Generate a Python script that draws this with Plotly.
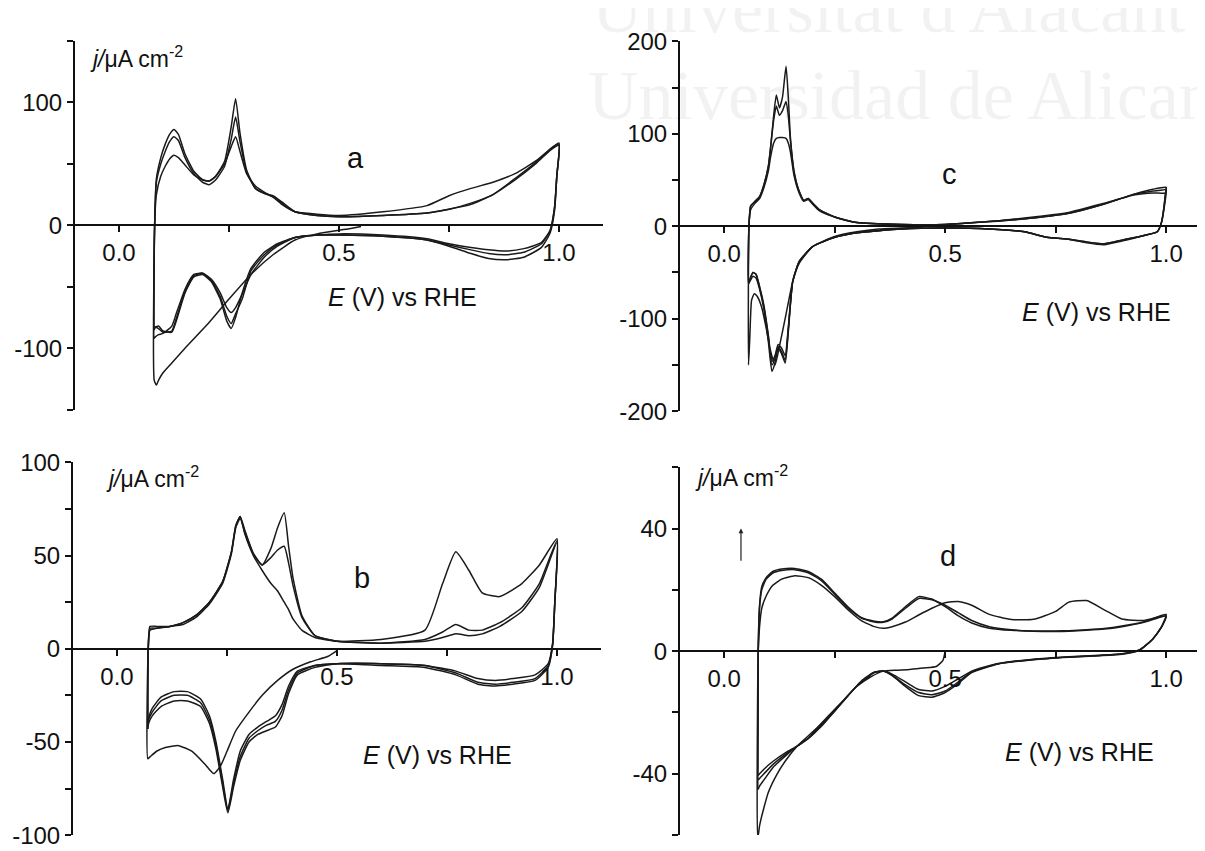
import plotly.graph_objects as go

# Reference canvas is 1205x851; the HTML body adds an 8px margin, so the figure is made
# 8px smaller and every reference pixel position is shifted by that offset.
W, H = 1205, 851
OFF = 8
FW, FH = W - OFF, H - OFF
FONT = "Liberation Sans, Arial, sans-serif"
AX = "#111111"
LC = "#1a1a1a"

# ---------------- Panel a ----------------
a_E_first = [0.55, 0.52, 0.50, 0.45, 0.40, 0.35, 0.30, 0.25, 0.20, 0.15, 0.12, 0.10, 0.09, 0.085, 0.08]
a_j_first = [-1, -3, -4, -7, -12, -24, -40, -60, -81, -100, -112, -120, -126, -130, -126]

a_E_up = [0.080, 0.081, 0.085, 0.095, 0.105, 0.115, 0.125, 0.135, 0.15, 0.17, 0.19, 0.205, 0.22, 0.24,
          0.255, 0.265, 0.275, 0.29, 0.31, 0.33, 0.35, 0.37, 0.40, 0.45, 0.50, 0.60, 0.70, 0.75, 0.80,
          0.85, 0.90, 0.95, 0.98, 1.00]
a_j_up1 = [-85, 0, 38, 55, 66, 74, 78, 74, 58, 44, 37, 36, 40, 52, 80, 103, 75, 45, 30, 26, 23, 18, 11,
           8, 7, 8, 10, 13, 17, 25, 38, 52, 62, 66]
a_j_up2 = [-92, 0, 35, 50, 60, 68, 72, 69, 55, 42, 35, 33, 37, 48, 70, 88, 68, 43, 30, 26, 24, 19, 11,
           8, 7, 8, 10, 13, 18, 25, 37, 51, 61, 65]
a_j_up3 = [-126, 0, 25, 40, 48, 54, 57, 55, 49, 41, 37, 36, 40, 50, 64, 72, 60, 42, 32, 27, 23, 17, 11,
           9, 8, 11, 16, 24, 30, 35, 42, 53, 62, 67]

a_E_dn = [1.00, 0.995, 0.99, 0.98, 0.96, 0.92, 0.88, 0.84, 0.80, 0.75, 0.70, 0.60, 0.50, 0.45, 0.40,
          0.36, 0.33, 0.30, 0.28, 0.265, 0.255, 0.245, 0.23, 0.21, 0.19, 0.17, 0.15, 0.13, 0.12, 0.10,
          0.09, 0.082, 0.080]
a_j_dn1 = [66, 40, 15, -4, -15, -22, -24, -23, -20, -16, -12, -9, -8, -8, -10, -15, -22, -35, -55, -75,
           -84, -78, -60, -46, -40, -42, -55, -78, -87, -86, -82, -83, -85]
a_j_dn2 = [65, 40, 15, -4, -14, -19, -21, -20, -18, -15, -11, -8, -7, -8, -10, -17, -26, -40, -56, -67,
           -71, -67, -55, -44, -39, -40, -52, -72, -82, -88, -89, -91, -92]
a_j_dn3 = [67, 40, 12, -6, -18, -26, -28, -27, -23, -17, -12, -9, -8, -8, -10, -16, -24, -37, -60, -72,
           -80, -74, -58, -45, -39, -41, -54, -76, -86, -87, -84, -83, -85]

# ---------------- Panel b ----------------
b_E_first = [0.50, 0.48, 0.44, 0.40, 0.365, 0.33, 0.30, 0.27, 0.25, 0.235, 0.22, 0.20, 0.17, 0.14, 0.11,
             0.09, 0.075, 0.070]
b_j_first = [-1, -4, -7, -11, -17, -25, -34, -44, -55, -63, -67, -62, -55, -52, -53, -55, -58, -59]

b_E_up = [0.070, 0.071, 0.075, 0.09, 0.12, 0.15, 0.18, 0.21, 0.24, 0.26, 0.27, 0.28, 0.29, 0.31, 0.33,
          0.35, 0.365, 0.38, 0.39, 0.40, 0.42, 0.45, 0.50, 0.60, 0.70, 0.74, 0.77, 0.80, 0.83, 0.87, 0.92,
          0.96, 1.00]
b_j_upF = [-59, 0, 10, 11, 12, 14, 18, 25, 36, 52, 66, 71, 62, 50, 42, 35, 31, 25, 21, 16, 10, 6, 4, 5,
           10, 35, 52, 42, 30, 28, 35, 45, 59]
b_j_up1 = [-40, 0, 12, 12, 12, 14, 18, 25, 36, 52, 66, 71, 64, 51, 45, 54, 65, 73, 55, 38, 18, 7, 4, 3,
           5, 9, 13, 10, 10, 14, 22, 35, 58]
b_j_up2 = [-43, 0, 11, 11, 12, 13, 17, 24, 35, 51, 65, 70, 63, 51, 45, 49, 53, 55, 46, 34, 17, 7, 4, 3,
           4, 6, 8, 7, 8, 12, 20, 33, 57]

b_E_dn = [1.00, 0.995, 0.99, 0.98, 0.95, 0.90, 0.86, 0.82, 0.77, 0.70, 0.60, 0.50, 0.45, 0.41, 0.39,
          0.375, 0.36, 0.34, 0.32, 0.30, 0.28, 0.265, 0.252, 0.24, 0.225, 0.21, 0.19, 0.16, 0.13, 0.10,
          0.08, 0.072, 0.070]
b_j_dn1 = [59, 25, 3, -8, -14, -16, -17, -16, -12, -9, -8, -8, -9, -12, -20, -30, -36, -39, -42, -46,
           -55, -70, -86, -70, -50, -36, -27, -23, -23, -26, -32, -37, -40]
b_j_dn2 = [58, 25, 2, -10, -17, -19, -20, -19, -14, -10, -9, -8, -10, -14, -24, -36, -42, -44, -46, -50,
           -60, -74, -88, -74, -54, -40, -31, -28, -28, -31, -36, -40, -43]
b_j_dn3 = [57, 25, 2, -9, -16, -18, -19, -18, -13, -9, -8, -8, -9, -13, -22, -33, -39, -41, -44, -48,
           -58, -72, -87, -72, -52, -38, -29, -25, -25, -28, -34, -38, -41]

# ---------------- Panel c ----------------
c_E_first = [0.45, 0.40, 0.35, 0.30, 0.25, 0.20, 0.17, 0.155, 0.14, 0.125, 0.115, 0.105, 0.095, 0.085,
             0.075, 0.068, 0.062, 0.058, 0.055]
c_j_first = [-1, -2, -3, -6, -11, -22, -40, -60, -95, -130, -150, -135, -110, -88, -76, -73, -80, -120,
             -150]

c_E_up = [0.055, 0.056, 0.06, 0.07, 0.08, 0.09, 0.10, 0.105, 0.112, 0.118, 0.125, 0.132, 0.14, 0.145,
          0.15, 0.158, 0.168, 0.18, 0.19, 0.20, 0.215, 0.25, 0.30, 0.40, 0.50, 0.60, 0.70, 0.78, 0.86,
          0.93, 0.97, 1.00]
c_j_upF = [-150, 0, 18, 25, 30, 42, 60, 75, 90, 95, 96, 96, 95, 90, 80, 55, 38, 27, 29, 24, 17, 10, 4,
           2, 2, 5, 10, 15, 25, 34, 36, 36]
c_j_up1 = [-62, 0, 22, 27, 32, 45, 65, 85, 120, 142, 128, 140, 173, 140, 95, 60, 40, 28, 30, 25, 18, 10,
           4, 2, 2, 5, 9, 14, 24, 35, 40, 42]
c_j_up2 = [-62, 0, 22, 27, 32, 45, 65, 85, 115, 130, 120, 125, 135, 120, 92, 58, 40, 28, 30, 25, 18, 10,
           4, 2, 2, 5, 9, 14, 24, 35, 38, 40]

c_E_dn = [1.00, 0.995, 0.99, 0.98, 0.95, 0.90, 0.86, 0.82, 0.78, 0.73, 0.68, 0.60, 0.50, 0.40, 0.30,
          0.25, 0.20, 0.17, 0.155, 0.145, 0.138, 0.13, 0.122, 0.115, 0.108, 0.10, 0.09, 0.08, 0.072,
          0.065, 0.06, 0.057, 0.055]
c_j_dn1 = [36, 18, 5, -6, -10, -15, -19, -17, -14, -12, -6, -3, -2, -3, -7, -12, -22, -38, -60, -115,
           -148, -138, -132, -148, -157, -125, -90, -68, -56, -54, -58, -60, -62]
c_j_dn2 = [42, 20, 5, -6, -10, -16, -20, -18, -14, -12, -6, -3, -2, -3, -7, -12, -22, -38, -60, -112,
           -145, -136, -130, -143, -150, -120, -88, -66, -52, -50, -55, -60, -62]
c_j_dn3 = [40, 20, 5, -6, -10, -15, -19, -17, -14, -12, -6, -3, -2, -3, -7, -12, -22, -38, -60, -110,
           -140, -132, -128, -140, -146, -118, -86, -65, -52, -50, -55, -60, -62]

# ---------------- Panel d ----------------
d_E_first = [0.50, 0.495, 0.48, 0.45, 0.42, 0.39, 0.36, 0.33, 0.30, 0.27, 0.24, 0.21, 0.18, 0.165, 0.14,
             0.12, 0.10, 0.09, 0.08, 0.077]
d_j_first = [0, -3, -5, -5.5, -6, -6.2, -6.5, -8.5, -11.5, -16, -20.5, -25, -29, -31, -35.5, -40, -46,
             -51, -57, -60]

d_E_up = [0.076, 0.077, 0.08, 0.085, 0.095, 0.11, 0.13, 0.16, 0.19, 0.22, 0.25, 0.28, 0.31, 0.34, 0.36,
          0.38, 0.41, 0.44, 0.47, 0.50, 0.53, 0.56, 0.60, 0.65, 0.70, 0.75, 0.78, 0.82, 0.86, 0.90, 0.95,
          1.00]
d_j_upF = [-60, 0, 8, 14, 18, 21.5, 23.5, 24.6, 24, 21.5, 17.8, 13.5, 10, 8, 7.5, 8, 9.5, 11.8, 14, 15.8,
           16.2, 15, 12, 10.3, 10.4, 13, 16, 16.5, 13.5, 10.5, 10, 11.5]
d_j_up1 = [-40, 0, 15, 21, 24, 26, 26.8, 27, 26, 23.5, 19, 14.5, 11, 9.8, 9.6, 10.8, 14.5, 17.8, 17, 14.5,
           11.5, 9.2, 7.5, 6.8, 6.6, 6.6, 6.7, 7, 7.4, 8.2, 9.6, 12]
d_j_up2 = [-45, 0, 14, 20, 23.5, 25.5, 26.3, 26.6, 25.6, 23, 18.6, 14, 10.8, 9.5, 9.4, 10.5, 14, 17.2,
           16.8, 15, 12.5, 10, 8, 7, 6.5, 6.4, 6.5, 6.8, 7.2, 8, 9.4, 11.5]

d_E_dn = [1.00, 0.99, 0.97, 0.94, 0.90, 0.85, 0.78, 0.70, 0.62, 0.56, 0.53, 0.50, 0.47, 0.44, 0.41, 0.38,
          0.36, 0.34, 0.31, 0.28, 0.25, 0.22, 0.19, 0.165, 0.14, 0.11, 0.09, 0.08, 0.077, 0.076]
d_j_dn1 = [11.5, 8, 4, 0.5, -0.8, -1.3, -1.8, -2.6, -4, -6.5, -9, -11.5, -13, -12.5, -10, -7.5, -6.5, -7,
           -10, -14.5, -19.5, -24, -28.5, -31, -33, -36, -38.5, -40, -40.5, -40]
d_j_dn2 = [12, 8, 4, 0.3, -1, -1.5, -2, -2.8, -4.2, -7, -10.5, -13.5, -15, -14.5, -11.5, -8, -6.5, -6.8,
           -9.8, -14.5, -19.5, -24.5, -28.5, -31, -34, -38, -42, -44, -45, -45]
d_j_dn3 = [11.5, 8, 4, 0.4, -0.9, -1.4, -1.9, -2.7, -4.1, -6.8, -10, -13, -14.2, -13.5, -11, -7.8, -6.5,
           -6.9, -9.9, -14.5, -19.5, -24.2, -28.5, -31, -33.5, -37, -40, -41.5, -42, -42]

# tick labels
x_major = [0.0, 0.5, 1.0]
x_major_text = ["0.0", "0.5", "1.0"]
x_minor = [0.25, 0.75]

# ---------------- layout geometry (reference pixels) ----------------
panels = {
    "a": dict(xa="x", ya="y", px=(75, 603), py=(27.5, 408.5), xr=[-0.1, 1.1], yr=[-150, 150],
              ymaj=[-100, 0, 100], ymin=[-150, -50, 50, 150]),
    "c": dict(xa="x2", ya="y2", px=(680, 1205), py=(28, 410), xr=[-0.1, 1.088], yr=[-200, 200],
              ymaj=[-200, -100, 0, 100, 200], ymin=[-150, -50, 50, 150]),
    "b": dict(xa="x3", ya="y3", px=(73, 601), py=(463, 848), xr=[-0.1, 1.1], yr=[-100, 100],
              ymaj=[-100, -50, 0, 50, 100], ymin=[-75, -25, 25, 75]),
    "d": dict(xa="x4", ya="y4", px=(680, 1205), py=(468, 848), xr=[-0.1, 1.088], yr=[-60, 60],
              ymaj=[-40, 0, 40], ymin=[-60, -20, 20, 60]),
}


def px_x(px):
    return (px - OFF) / FW


def px_y(py):
    return 1 - (py - OFF) / FH


def join(*segs):
    xs, ys = [], []
    for ex, jy in segs:
        for x, y in zip(ex, jy):
            if xs and xs[-1] == x and ys[-1] == y:
                continue
            xs.append(x)
            ys.append(y)
    return xs, ys


curves = {
    "a": [join((a_E_first, a_j_first), (a_E_up, a_j_up3), (a_E_dn, a_j_dn3)),
          join((a_E_up, a_j_up1), (a_E_dn, a_j_dn1)),
          join((a_E_up, a_j_up2), (a_E_dn, a_j_dn2))],
    "b": [join((b_E_first, b_j_first), (b_E_up, b_j_upF), (b_E_dn, b_j_dn1)),
          join((b_E_up, b_j_up1), (b_E_dn, b_j_dn2)),
          join((b_E_up, b_j_up2), (b_E_dn, b_j_dn3))],
    "c": [join((c_E_first, c_j_first), (c_E_up, c_j_upF), (c_E_dn, c_j_dn3)),
          join((c_E_up, c_j_up1), (c_E_dn, c_j_dn1)),
          join((c_E_up, c_j_up2), (c_E_dn, c_j_dn2))],
    "d": [join((d_E_first, d_j_first), (d_E_up, d_j_upF), (d_E_dn, d_j_dn1)),
          join((d_E_up, d_j_up1), (d_E_dn, d_j_dn2)),
          join((d_E_up, d_j_up2), (d_E_dn, d_j_dn3))],
}

fig = go.Figure()
layout = dict(width=FW, height=FH, margin=dict(l=0, r=0, t=0, b=0), paper_bgcolor="white",
              plot_bgcolor="rgba(0,0,0,0)", showlegend=False, font=dict(family=FONT, color="#111"))

tickfont = dict(family=FONT, size=24, color="#111")
for key, p in panels.items():
    xd = [px_x(p["px"][0]), min(1.0, px_x(p["px"][1]))]
    yd = [max(0.0, px_y(p["py"][1])), px_y(p["py"][0])]
    ypos = yd[0] + (yd[1] - yd[0]) * (0 - p["yr"][0]) / (p["yr"][1] - p["yr"][0])
    xname = "xaxis" + p["xa"][1:]
    yname = "yaxis" + p["ya"][1:]
    layout[xname] = dict(domain=xd, range=p["xr"], anchor="free", position=ypos,
                         showline=True, linecolor=AX, linewidth=2, ticks="outside", ticklen=6,
                         tickwidth=1.6, tickcolor=AX, tickmode="array", tickvals=x_major,
                         ticktext=x_major_text,
                         minor=dict(tickmode="array", tickvals=x_minor, ticks="outside", ticklen=6,
                                    tickwidth=1.6, tickcolor=AX),
                         showgrid=False, zeroline=False, tickfont=tickfont, fixedrange=True)
    layout[yname] = dict(domain=yd, range=p["yr"], anchor=p["xa"], showline=True, linecolor=AX,
                         linewidth=2, ticks="outside", ticklen=6, tickwidth=1.6, tickcolor=AX,
                         tickmode="array", tickvals=p["ymaj"], ticktext=[str(v) for v in p["ymaj"]],
                         minor=dict(tickmode="array", tickvals=p["ymin"], ticks="outside", ticklen=6,
                                    tickwidth=1.6, tickcolor=AX),
                         showgrid=False, zeroline=False, tickfont=tickfont, fixedrange=True)
    for xs, ys in curves[key]:
        fig.add_trace(go.Scatter(x=xs, y=ys, mode="lines", xaxis=p["xa"], yaxis=p["ya"],
                                 line=dict(color=LC, width=1.5, shape="spline", smoothing=0.5),
                                 hoverinfo="skip", cliponaxis=False))

fig.update_layout(**layout)

# ---------------- text ----------------
ylab = "<i>j/</i>μA cm<sup>-2</sup>"
xlab = "<i>E</i> (V) vs RHE"
text_items = [
    # (panel, text, x, y, size, xanchor)
    ("a", ylab, -0.07, 137, 23, "left"),
    ("c", ylab, -0.08, 208, 23, "left"),
    ("b", ylab, -0.03, 92, 23, "left"),
    ("d", ylab, -0.07, 57, 23, "left"),
    ("a", xlab, 0.47, -58, 25, "left"),
    ("c", xlab, 0.67, -93, 25, "left"),
    ("b", xlab, 0.555, -57, 25, "left"),
    ("d", xlab, 0.63, -33, 25, "left"),
    ("a", "a", 0.537, 55, 29, "center"),
    ("c", "c", 0.51, 57, 29, "center"),
    ("b", "b", 0.556, 38, 29, "center"),
    ("d", "d", 0.507, 31, 29, "center"),
]
anns = []
for key, txt, x, y, size, xa in text_items:
    p = panels[key]
    anns.append(dict(text=txt, x=x, y=y, xref=p["xa"], yref=p["ya"], showarrow=False, xanchor=xa,
                     yanchor="middle", font=dict(family=FONT, size=size, color="#111")))

# small arrow in panel d
anns.append(dict(x=0.038, y=40, ax=0.038, ay=29, xref="x4", yref="y4", axref="x4", ayref="y4",
                 showarrow=True, arrowhead=2, arrowsize=0.8, arrowwidth=1.2, arrowcolor="#222", text=""))

# faint watermark of the scanned page
WM = dict(family="Liberation Serif, Times New Roman, serif", size=70, color="rgba(0,0,0,0.05)")
anns.append(dict(text="Universitat d'Alacant", x=px_x(590), y=px_y(-6), xref="paper", yref="paper",
                 xanchor="left", yanchor="middle", showarrow=False, font=WM))
anns.append(dict(text="Universidad de Alicante", x=px_x(586), y=px_y(84), xref="paper", yref="paper",
                 xanchor="left", yanchor="middle", showarrow=False, font=WM))

fig.update_layout(annotations=anns)
fig.write_html("out.html")
